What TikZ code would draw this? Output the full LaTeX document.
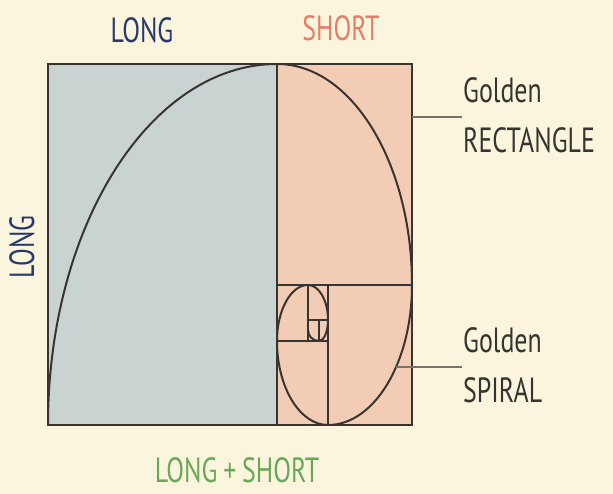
\documentclass[tikz,border=0pt]{standalone}
\usepackage{fontspec}
\newfontfamily\handfont{PT Sans}[FakeStretch=0.74]
\usetikzlibrary{positioning}
\definecolor{papercol}{RGB}{251, 245, 221}
\definecolor{longcol}{RGB}{201, 211, 210}
\definecolor{shortcol}{RGB}{243, 204, 182}
\definecolor{edgecol}{RGB}{58, 52, 48}
\definecolor{tagcol}{RGB}{118, 116, 106}
\definecolor{inkcol}{RGB}{52, 52, 48}
\definecolor{bluecol}{RGB}{38, 58, 112}
\definecolor{salmoncol}{RGB}{228, 124, 104}
\definecolor{greencol}{RGB}{104, 168, 86}
\tikzset{
  frame/.style  = {draw=edgecol, line width=2.8pt},
  split/.style  = {draw=edgecol, line width=1.7pt},
  spiral/.style = {draw=edgecol, line width=2pt},
  % leader lines from the figure out to the side labels
  tag/.style    = {draw=tagcol, line width=2.8pt},
  hand/.style   = {font=\handfont\fontsize{35}{50}\selectfont, inner sep=1pt},
  side/.style   = {hand, text=inkcol, align=left, anchor=west},
}

\begin{document}
\begin{tikzpicture}[x=1pt, y=1pt]

  \fill[papercol] (0,0) rectangle (613,494);
  \useasboundingbox (0,0) rectangle (613,494);

  %% ================ the two parts ================
  \fill[longcol]  (48,69) rectangle (277,430);
  \fill[shortcol] (277,69) rectangle (412,430);

  %% ---------------- the squares inside ----------------
  \draw[split] (277,69) -- (277,430);
  \draw[split] (277,209) -- (412,209);
  \draw[split] (328,209) -- (328,69);
  \draw[split] (277,153) -- (328,153);
  \draw[split] (308,209) -- (308,153);
  \draw[split] (308,174) -- (328,174);
  \draw[split] (319,174) -- (319,153);

  %% ---------------- the spiral ----------------
  \draw[spiral] (48,69)
    arc[start angle=180, end angle=90,   x radius=229pt, y radius=361pt]
    arc[start angle=90,  end angle=0,    x radius=135pt, y radius=221pt]
    arc[start angle=0,   end angle=-90,  x radius=84pt,  y radius=140pt]
    arc[start angle=-90, end angle=-180, x radius=51pt,  y radius=84pt]
    arc[start angle=180, end angle=90,   x radius=31pt,  y radius=56pt]
    arc[start angle=90,  end angle=0,    x radius=20pt,  y radius=35pt]
    arc[start angle=0,   end angle=-90,  x radius=9pt,   y radius=21pt]
    arc[start angle=-90, end angle=-180, x radius=11pt,  y radius=11pt];

  \draw[frame] (48,69) rectangle (412,430);

  %% ================ labels ================
  \node[hand, text=bluecol] (toplong) at (142,464) {LONG};
  \node[hand, text=salmoncol] (topshort) at (341,466) {SHORT};
  \node[hand, text=bluecol, rotate=90] (sidelong) at (22,247) {LONG};
  \node[hand, text=greencol] (sum) at (237,24) {LONG\,+\,SHORT};

  \node[side] (rectlbl) at (462,379) {Golden\\RECTANGLE};
  \node[side] (spirallbl) at (462,129) {Golden\\SPIRAL};

  \coordinate (rectedge) at (412,377);
  \coordinate (spiralpt) at (396,127);
  \draw[tag] (rectedge) -- (rectedge -| rectlbl.west);
  \draw[tag] (spiralpt) -- (spiralpt -| spirallbl.west);

\end{tikzpicture}
\end{document}
